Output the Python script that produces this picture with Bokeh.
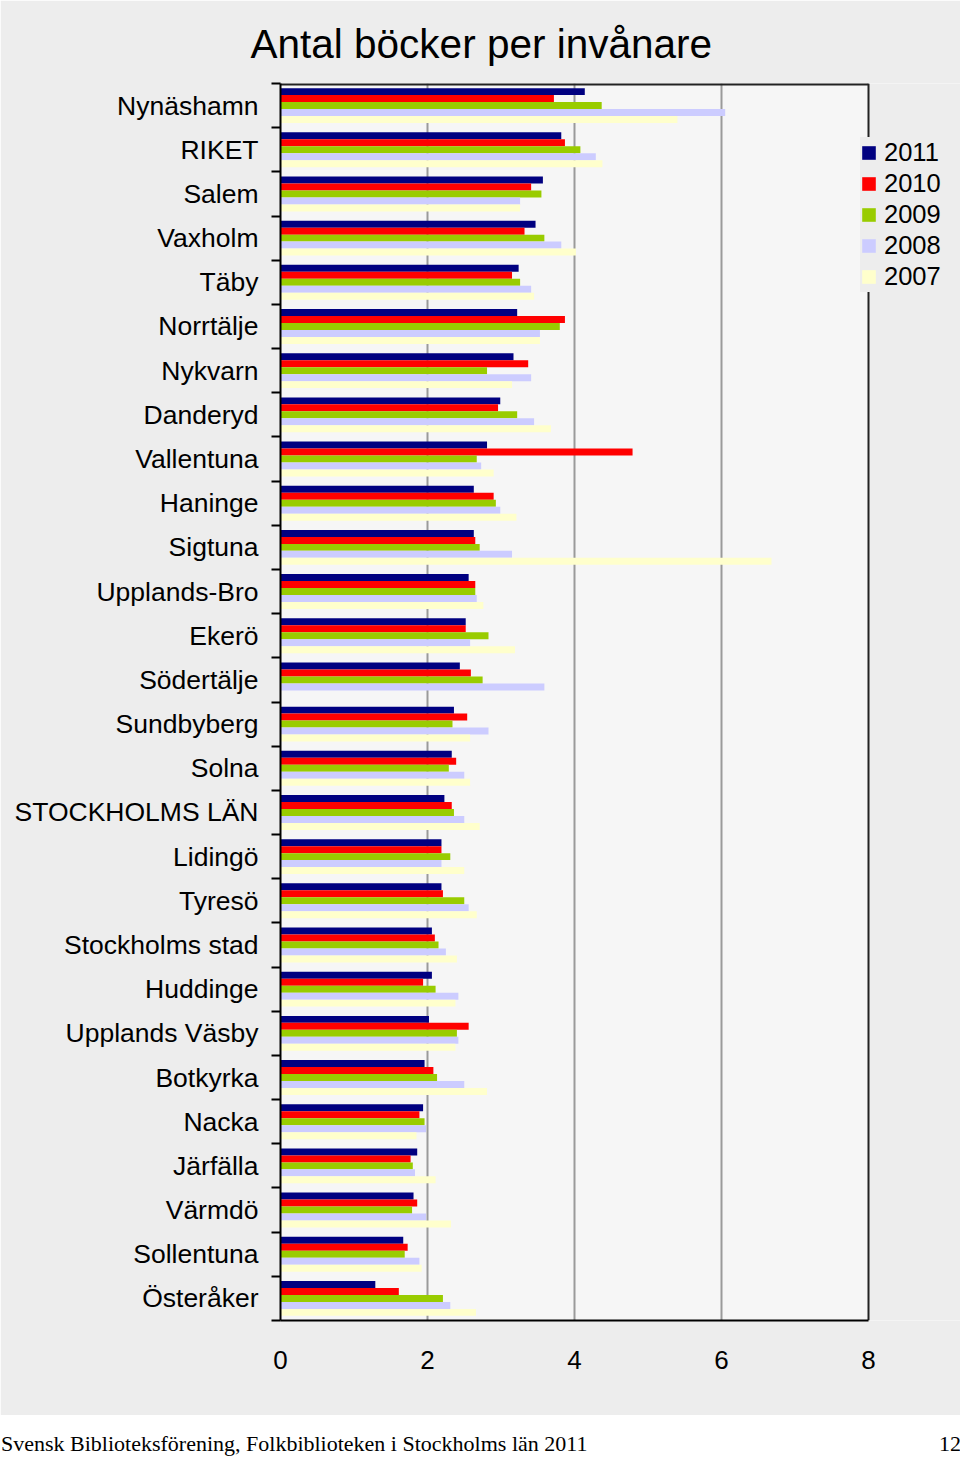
import math
from bokeh.plotting import figure
from bokeh.models import (ColumnDataSource, Range1d, FixedTicker, Legend, LegendItem, Div,
                          BoxAnnotation)
from bokeh.layouts import column
from bokeh.embed import file_html
from bokeh.resources import INLINE

NAN = float("nan")

categories = ["Nynäshamn", "RIKET", "Salem", "Vaxholm", "Täby", "Norrtälje", "Nykvarn",
              "Danderyd", "Vallentuna", "Haninge", "Sigtuna", "Upplands-Bro", "Ekerö",
              "Södertälje", "Sundbyberg", "Solna", "STOCKHOLMS LÄN", "Lidingö", "Tyresö",
              "Stockholms stad", "Huddinge", "Upplands Väsby", "Botkyrka", "Nacka",
              "Järfälla", "Värmdö", "Sollentuna", "Österåker"]

years = ["2011", "2010", "2009", "2008", "2007"]

v2011 = [4.14, 3.82, 3.57, 3.47, 3.24, 3.22, 3.17, 2.99, 2.81, 2.63, 2.63, 2.56, 2.52, 2.44,
         2.36, 2.33, 2.23, 2.19, 2.19, 2.06, 2.06, 2.02, 1.96, 1.94, 1.86, 1.81, 1.67, 1.29]
v2010 = [3.72, 3.87, 3.41, 3.32, 3.15, 3.87, 3.37, 2.96, 4.79, 2.90, 2.65, 2.65, 2.52, 2.59,
         2.54, 2.39, 2.33, 2.19, 2.21, 2.10, 1.94, 2.56, 2.08, 1.89, 1.77, 1.86, 1.73, 1.61]
v2009 = [4.37, 4.08, 3.55, 3.59, 3.26, 3.80, 2.81, 3.22, 2.67, 2.93, 2.71, 2.65, 2.83, 2.75,
         2.34, 2.29, 2.36, 2.31, 2.50, 2.15, 2.11, 2.40, 2.13, 1.96, 1.80, 1.79, 1.69, 2.21]
v2008 = [6.05, 4.29, 3.26, 3.82, 3.41, 3.53, 3.41, 3.45, 2.73, 2.99, 3.15, 2.67, 2.58, 3.59,
         2.83, 2.50, 2.50, 2.19, 2.56, 2.25, 2.42, 2.42, 2.50, 1.98, 1.83, 1.98, 1.89, 2.31]
v2007 = [5.40, 4.38, 3.26, 4.02, 3.45, 3.53, 3.15, 3.68, 2.90, 3.21, 6.68, 2.76, 3.19, NAN,
         2.58, 2.58, 2.71, 2.50, 2.67, 2.40, 2.38, 2.38, 2.81, 1.85, 2.11, 2.32, 1.92, 2.66]

x_ticks = [0, 2, 4, 6, 8]

footer_left = "Svensk Biblioteksförening, Folkbiblioteken i Stockholms län 2011"
footer_right = "12"

series = [v2011, v2010, v2009, v2008, v2007]
colors = ["#000080", "#ff0000", "#99cc00", "#ccccff", "#ffffcc"]

FONT = "Liberation Sans"
BG = "#ededed"

n = len(categories)
x_min, x_max = x_ticks[0], x_ticks[-1]
# the frame extends right of the axis end so that the legend can sit there
x_end = x_max * 680.0 / 588.0

p = figure(width=960, height=1415, output_backend="svg", toolbar_location=None,
           x_range=Range1d(x_min, x_end), y_range=Range1d(n - 0.5, -0.5),
           min_border_left=280, min_border_right=0, min_border_top=83,
           min_border_bottom=95)
p.border_fill_color = BG
p.background_fill_color = "#f6f6f6"
p.outline_line_color = None

p.title.text = "Antal böcker per invånare"
p.title.text_font = FONT
p.title.text_font_size = "40.5px"
p.title.text_font_style = "normal"
p.title.text_color = "black"
p.title.align = "left"
p.title.offset = -30
p.title.standoff = 33

# area right of the value axis end looks like the page background
p.add_layout(BoxAnnotation(left=x_max, fill_color=BG, fill_alpha=1.0, line_color=None,
                           level="underlay"))

p.xgrid.ticker = FixedTicker(ticks=x_ticks[1:-1])
p.xgrid.grid_line_color = "#9a9a9a"
p.xgrid.grid_line_width = 2
p.ygrid.visible = False

bar_h = 0.158
items = []
for k, (yr, vals, col) in enumerate(zip(years, series, colors)):
    ys = [i + (k - 2) * bar_h for i in range(n)]
    src = ColumnDataSource(dict(y=ys, right=vals))
    r = p.hbar(y="y", right="right", left=0, height=bar_h, source=src,
               fill_color=col, line_color=None)
    items.append(LegendItem(label=yr, renderers=[r]))

# plot-area border: top and right edges ending at the axis maximum
p.segment(x0=[x_min], x1=[x_max], y0=[-0.5], y1=[-0.5], line_color="#222222", line_width=4)
p.segment(x0=[x_max], x1=[x_max], y0=[-0.5], y1=[n - 0.5], line_color="#222222", line_width=2)

# x axis
xa = p.xaxis[0]
xa.ticker = FixedTicker(ticks=x_ticks)
xa.bounds = (x_min, x_max)
xa.major_label_text_font = FONT
xa.major_label_text_font_size = "26px"
xa.major_label_text_color = "black"
xa.major_label_standoff = 30
xa.major_tick_out = 0
xa.major_tick_in = 0
xa.minor_tick_out = 0
xa.minor_tick_in = 0
xa.axis_line_color = "black"
xa.axis_line_width = 2

# y axis
ya = p.yaxis[0]
ya.ticker = FixedTicker(ticks=list(range(n)), minor_ticks=[i - 0.5 for i in range(n + 1)])
ya.major_label_overrides = {i: c for i, c in enumerate(categories)}
ya.major_label_text_font = FONT
ya.major_label_text_font_size = "26.5px"
ya.major_label_text_color = "black"
ya.major_label_standoff = 13
ya.major_tick_out = 0
ya.major_tick_in = 0
ya.minor_tick_out = 9
ya.minor_tick_in = 0
ya.minor_tick_line_width = 2
ya.minor_tick_line_color = "black"
ya.axis_line_color = "black"
ya.axis_line_width = 2

legend = Legend(items=items, location=(580, 1028), orientation="vertical",
                label_text_font=FONT, label_text_font_size="25.5px",
                label_text_color="black", glyph_width=17, glyph_height=17,
                label_height=31, spacing=0, padding=0, margin=0,
                label_standoff=7, background_fill_color=BG,
                background_fill_alpha=1.0, border_line_color=None)
p.add_layout(legend)

footer = Div(
    text=('<div style="display:flex;justify-content:space-between;align-items:center;'
          'width:960px;height:45px;margin-left:-4px;padding:2px 0 0 0;'
          'font-family:\'Liberation Serif\';'
          'font-size:22px;color:black;background:white;">'
          f'<span>{footer_left}</span><span>{footer_right}</span></div>'),
    width=960, height=45, styles={"background-color": "white"})

layout = column(p, footer, spacing=0)
open("out.html", "w").write(file_html(layout, INLINE))
